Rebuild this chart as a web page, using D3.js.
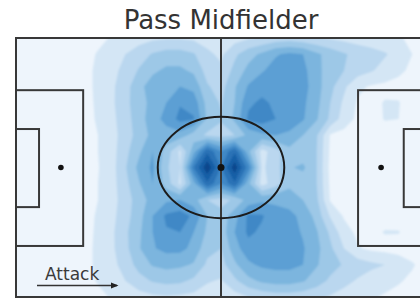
<!DOCTYPE html>
<html>
<head>
<meta charset="utf-8">
<script src="https://cdn.jsdelivr.net/npm/d3@7"></script>
<style>
  html, body { margin: 0; padding: 0; background: #fff; }
  svg { display: block; }
</style>
</head>
<body>
<div id="chart"></div>
<script>
const title = 'Pass Midfielder';
const attackLabel = 'Attack';

// pitch as drawn (metres)
const pitchLength = 105;
const pitchWidth = 68;

// markings in pitch units
const penaltyBoxes = [[0, 13.7, 17.2, 54.6], [87.6, 13.7, 105, 54.6]];
const sixYardBoxes = [[0, 23.9, 5.9, 44.4], [99.3, 23.9, 105, 44.4]];
const penaltySpots = [[11.5, 34], [93.5, 34]];
const centreSpot = [52.5, 34];
const centreCircle = [16.2, 13.3]; // rx, ry

// pass density, rows top->bottom, cols left->right (31 x 17)
const passDensity = [
  [0,0,0,0,0,0.3,0.7,1.1,1.4,1.6,1.8,1.9,1.9,1.8,1.6,1.4,1.6,1.9,2.1,2.4,2.5,2.3,2.1,1.9,1.7,1.5,1.4,1.3,1.1,0.8,0.5],
  [0,0,0,0,0.1,0.6,1.1,1.5,2.0,2.5,3.1,3.4,3.4,3.1,2.2,1.8,2.8,3.6,4.2,4.9,5.2,5.0,4.2,3.6,3.1,2.7,2.4,2.1,1.6,1.0,0.6],
  [0,0,0,0,0.2,0.7,1.2,1.7,2.3,3.1,3.8,4.2,4.2,3.8,2.6,2.2,3.3,4.3,4.9,5.4,5.6,5.3,4.3,3.5,3.0,2.5,2.1,1.6,1.2,0.8,0.5],
  [0,0,0,0,0.2,0.7,1.2,1.8,2.6,3.7,4.5,4.8,5.0,4.7,3.1,2.6,3.9,5.1,5.6,5.6,5.7,5.4,4.4,3.3,2.2,1.2,0.9,0.8,0.7,0.5,0.3],
  [0,0,0,0,0.2,0.7,1.15,1.8,2.7,3.6,4.3,5.0,5.9,5.6,3.6,2.9,4.0,5.8,6.2,5.8,5.6,5.2,4.3,3.0,1.8,0.9,0.8,1.05,1.05,0.5,0.3],
  [0,0,0,0,0.2,0.7,1.1,1.7,2.6,3.5,4.6,5.3,6.3,6.1,3.8,3.1,4.2,6.2,6.5,6.0,5.6,5.1,4.1,2.8,1.5,0.8,0.7,1.05,1.0,0.5,0.3],
  [0,0,0,0,0.2,0.7,1.0,1.6,2.5,3.4,4.3,4.6,4.6,3.5,2.8,2.6,3.0,4.3,4.8,5.0,4.8,4.0,3.1,0.9,0.7,0.6,0.6,0.6,0.5,0.4,0.2],
  [0,0,0,0,0.2,0.7,1.0,1.6,2.7,3.8,5.0,3.6,1.8,4.6,7.8,6.0,7.8,4.3,1.6,2.6,3.7,3.4,3.0,0.8,0.6,0.5,0.5,0.5,0.4,0.3,0.2],
  [0,0,0,0,0.2,0.8,0.95,1.6,2.9,4.3,5.2,3.2,2.0,7.0,9.8,6.9,9.6,6.5,1.8,2.6,3.9,4.2,3.0,0.7,0.6,0.5,0.5,0.5,0.4,0.3,0.2],
  [0,0,0,0,0.2,0.7,1.0,1.6,2.7,3.9,5.0,3.6,1.8,4.6,7.8,6.0,7.8,4.3,1.6,2.6,3.7,3.4,3.0,0.8,0.6,0.5,0.5,0.5,0.4,0.3,0.2],
  [0,0,0,0,0.2,0.7,1.0,1.6,2.5,3.5,4.4,4.8,5.0,4.4,3.0,2.6,3.2,4.4,4.8,4.8,4.7,4.0,3.2,0.9,0.7,0.6,0.6,0.6,0.5,0.4,0.2],
  [0,0,0,0,0.2,0.7,1.1,1.7,2.6,3.6,5.0,6.2,6.5,5.8,4.0,3.4,4.6,6.2,6.1,5.4,5.2,4.8,3.6,1.9,0.9,0.7,0.7,0.7,0.6,0.4,0.2],
  [0,0,0,0,0.2,0.7,1.15,1.8,2.8,3.8,5.0,5.9,6.0,5.0,3.8,3.4,5.0,6.2,5.8,5.5,5.4,4.9,4.1,2.8,1.4,0.8,0.8,1.05,1.05,0.5,0.3],
  [0,0,0,0,0.2,0.7,1.2,1.8,2.7,3.9,4.9,5.3,5.3,4.7,3.3,3.0,4.6,5.6,5.7,5.6,5.5,5.1,4.3,3.2,2.0,1.1,0.8,0.7,0.6,0.5,0.3],
  [0,0,0,0,0.2,0.7,1.2,1.7,2.4,3.4,4.1,4.3,4.2,3.9,2.8,2.6,3.8,4.8,5.2,5.3,5.3,5.0,4.1,3.4,2.9,2.5,2.2,2.0,1.6,1.1,0.6],
  [0,0,0,0,0.1,0.6,1.1,1.5,2.0,2.6,3.1,3.3,3.2,2.8,2.1,1.9,2.8,3.7,4.2,4.4,4.4,4.1,3.5,2.8,2.3,1.9,1.6,1.3,1.1,0.8,0.4],
  [0,0,0,0,0,0.3,0.7,1.1,1.4,1.6,1.8,1.9,1.8,1.7,1.5,1.3,1.6,2.0,2.3,2.5,2.5,2.4,2.2,1.9,1.6,1.3,1.1,0.9,0.7,0.5,0.3]
];
const levels = [1, 2, 3, 4, 5, 6, 7, 8, 9];
const levelColors = ['#d4e6f5', '#bad7ef', '#9dc8e7', '#7cb5de', '#5b9fd4', '#3f88c6', '#2a72b6', '#175ea6', '#0a468c'];

const width = 420;
const height = 298;

const x = d3.scaleLinear().domain([0, pitchLength]).range([16, 426]);
const y = d3.scaleLinear().domain([0, pitchWidth]).range([38, 297]);

const svg = d3.select('#chart').append('svg')
  .attr('width', width)
  .attr('height', height)
  .style('font-family', '"DejaVu Sans", sans-serif');

const defs = svg.append('defs');
defs.append('clipPath').attr('id', 'pitch-clip')
  .append('rect')
  .attr('x', x(0)).attr('y', y(0))
  .attr('width', x(pitchLength) - x(0))
  .attr('height', y(pitchWidth) - y(0));
defs.append('filter').attr('id', 'soft')
  .append('feGaussianBlur').attr('stdDeviation', 0.9);
defs.append('marker')
  .attr('id', 'arrow')
  .attr('viewBox', '0 0 10 10')
  .attr('refX', 8).attr('refY', 5)
  .attr('markerWidth', 5).attr('markerHeight', 5)
  .attr('orient', 'auto')
  .append('path')
  .attr('d', 'M0,1 L10,5 L0,9 Z')
  .attr('fill', '#222');

// pitch background
svg.append('rect')
  .attr('x', x(0)).attr('y', y(0))
  .attr('width', x(pitchLength) - x(0))
  .attr('height', y(pitchWidth) - y(0))
  .attr('fill', '#eef5fc');

// density contours
const nx = passDensity[0].length;
const ny = passDensity.length;
const stepX = pitchLength / (nx - 1);
const stepY = pitchWidth / (ny - 1);
const contours = d3.contours()
  .size([nx, ny])
  .thresholds(levels)(passDensity.flat());

const proj = d3.geoTransform({
  point(px, py) {
    this.stream.point(x((px - 0.5) * stepX), y((py - 0.5) * stepY));
  }
});
const path = d3.geoPath(proj);

svg.append('g')
  .attr('clip-path', 'url(#pitch-clip)')
  .append('g')
  .attr('filter', 'url(#soft)')
  .selectAll('path')
  .data(contours)
  .enter().append('path')
  .attr('d', path)
  .attr('fill', (d, i) => levelColors[i]);

// pitch lines
const lines = svg.append('g')
  .attr('fill', 'none')
  .attr('stroke', '#383838')
  .attr('stroke-width', 2);

lines.append('rect')
  .attr('x', x(0)).attr('y', y(0))
  .attr('width', x(pitchLength) - x(0))
  .attr('height', y(pitchWidth) - y(0));

lines.append('line')
  .attr('x1', x(pitchLength / 2)).attr('x2', x(pitchLength / 2))
  .attr('y1', y(0)).attr('y2', y(pitchWidth));

lines.selectAll('.box')
  .data(penaltyBoxes.concat(sixYardBoxes))
  .enter().append('rect')
  .attr('class', 'box')
  .attr('x', d => x(d[0]))
  .attr('y', d => y(d[1]))
  .attr('width', d => x(d[2]) - x(d[0]))
  .attr('height', d => y(d[3]) - y(d[1]));

lines.append('ellipse')
  .attr('cx', x(centreSpot[0])).attr('cy', y(centreSpot[1]))
  .attr('rx', x(centreCircle[0]) - x(0))
  .attr('ry', y(centreCircle[1]) - y(0))
  .attr('stroke', '#1c1c1c');

svg.selectAll('.spot')
  .data(penaltySpots)
  .enter().append('circle')
  .attr('class', 'spot')
  .attr('cx', d => x(d[0]))
  .attr('cy', d => y(d[1]))
  .attr('r', 2.8)
  .attr('fill', '#111');

svg.append('circle')
  .attr('cx', x(centreSpot[0])).attr('cy', y(centreSpot[1]))
  .attr('r', 3.5)
  .attr('fill', '#111');

// attack direction
svg.append('text')
  .attr('x', 45).attr('y', 280)
  .attr('font-size', 17)
  .attr('fill', '#3a3a3a')
  .text(attackLabel);

svg.append('line')
  .attr('x1', 37).attr('y1', 285.5)
  .attr('x2', 117).attr('y2', 285.5)
  .attr('stroke', '#333')
  .attr('stroke-width', 1.5)
  .attr('marker-end', 'url(#arrow)');

// title
svg.append('text')
  .attr('x', x(pitchLength / 2)).attr('y', 29)
  .attr('text-anchor', 'middle')
  .attr('font-size', 26)
  .attr('fill', '#333')
  .text(title);
</script>
</body>
</html>
